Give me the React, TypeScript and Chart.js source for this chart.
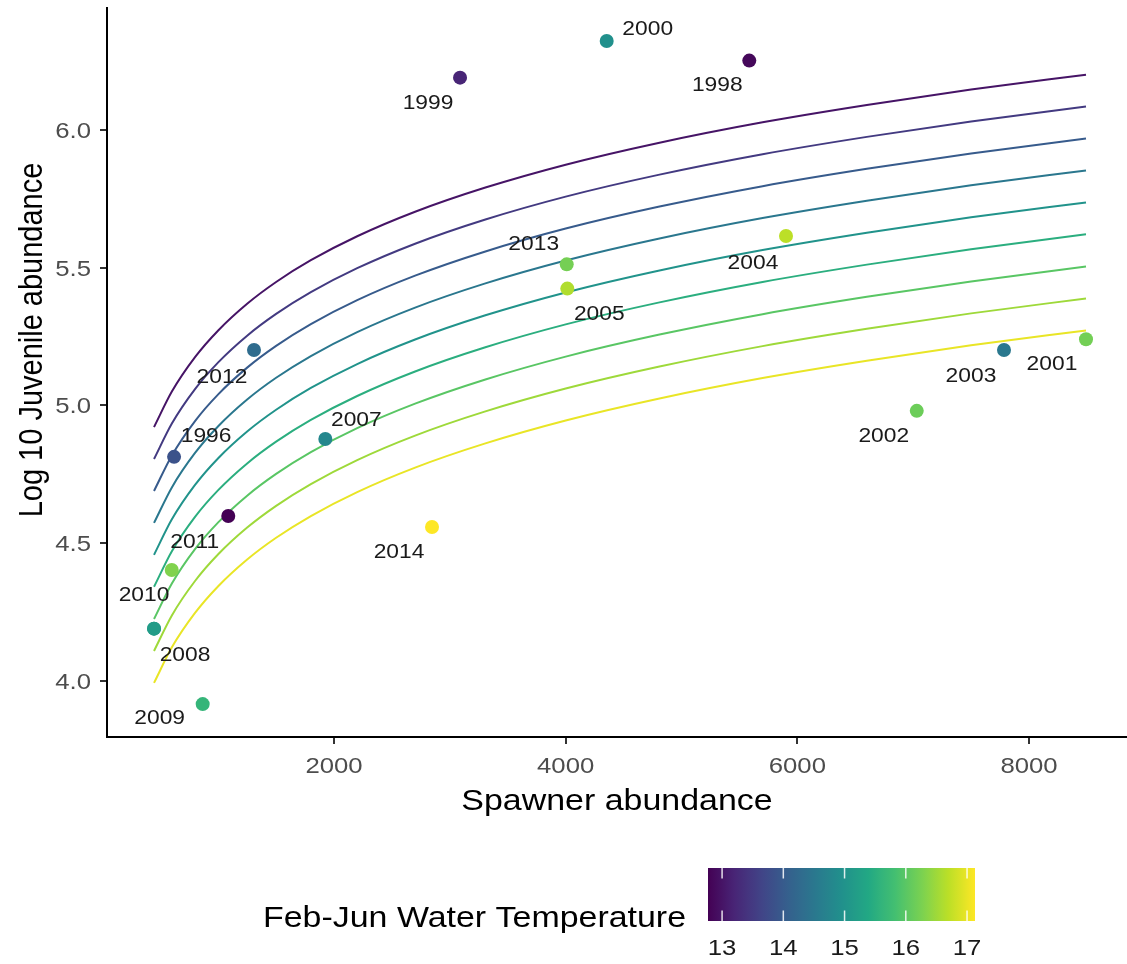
import React, { useEffect, useRef } from "react";
import { Chart, registerables } from "chart.js";

Chart.register(...registerables);

// ---------- data ----------
const years = ["1996", "1997", "1998", "1999", "2000", "2001", "2002", "2003", "2004", "2005", "2007", "2008", "2009", "2010", "2011", "2012", "2013", "2014"];
const spawners = [619, 1087, 5585, 3088, 4354, 8492, 7031, 7784, 5902, 4014, 1925, 446, 866, 446, 599, 1309, 4009, 2846];
const juveniles = [4.813, 4.598, 6.252, 6.19, 6.323, 5.24, 4.98, 5.201, 5.615, 5.424, 4.878, 4.189, 3.915, 4.189, 4.402, 5.201, 5.512, 4.558];
const temps = [13.86, 12.77, 12.85, 13.21, 14.95, 16.2, 16.15, 14.51, 16.7, 16.62, 14.79, 15.17, 15.64, 15.17, 16.3, 14.3, 16.22, 17.13];

const curveX = [446, 600, 800, 1000, 1250, 1500, 1800, 2200, 2700, 3300, 4000, 4800, 5700, 6600, 7500, 8492];
const curveTemps = [13, 13.5, 14, 14.5, 15, 15.5, 16, 16.5, 17];
const curve13 = [4.921, 5.05, 5.175, 5.272, 5.369, 5.448, 5.527, 5.614, 5.703, 5.79, 5.874, 5.953, 6.028, 6.091, 6.147, 6.201];
const curve135 = [4.805, 4.934, 5.059, 5.156, 5.253, 5.332, 5.411, 5.498, 5.587, 5.674, 5.758, 5.837, 5.912, 5.975, 6.031, 6.085];
const curve14 = [4.689, 4.818, 4.943, 5.04, 5.137, 5.216, 5.295, 5.382, 5.471, 5.558, 5.642, 5.721, 5.796, 5.859, 5.915, 5.969];
const curve145 = [4.573, 4.702, 4.827, 4.924, 5.021, 5.1, 5.179, 5.266, 5.355, 5.442, 5.526, 5.605, 5.68, 5.743, 5.799, 5.853];
const curve15 = [4.457, 4.586, 4.711, 4.808, 4.905, 4.984, 5.063, 5.15, 5.239, 5.326, 5.41, 5.489, 5.564, 5.627, 5.683, 5.737];
const curve155 = [4.341, 4.47, 4.595, 4.692, 4.789, 4.868, 4.947, 5.034, 5.123, 5.21, 5.294, 5.373, 5.448, 5.511, 5.567, 5.621];
const curve16 = [4.224, 4.353, 4.478, 4.575, 4.672, 4.751, 4.83, 4.917, 5.006, 5.093, 5.177, 5.256, 5.331, 5.394, 5.45, 5.504];
const curve165 = [4.108, 4.237, 4.362, 4.459, 4.556, 4.635, 4.714, 4.801, 4.89, 4.977, 5.061, 5.14, 5.215, 5.278, 5.334, 5.388];
const curve17 = [3.992, 4.121, 4.246, 4.343, 4.44, 4.519, 4.598, 4.685, 4.774, 4.861, 4.945, 5.024, 5.099, 5.162, 5.218, 5.272];
const curves = [curve13, curve135, curve14, curve145, curve15, curve155, curve16, curve165, curve17];

const xTicks = [2000, 4000, 6000, 8000];
const yTicks = [4.0, 4.5, 5.0, 5.5, 6.0];
const legendTicks = [13, 14, 15, 16, 17];
const tempMin = 12.77;
const tempMax = 17.13;

// ---------- styles ----------
const FONT = '"Liberation Sans", Arial, Helvetica, sans-serif';
const SX = 1.17; // horizontal text stretch seen in the reference
const VIRIDIS = ["#440154", "#482576", "#414487", "#35608D", "#2A788E", "#21908C", "#22A884", "#43BF71", "#7AD151", "#BBDF27", "#FDE725"];

// label offsets (px) from each point, by year
const labelOffsets: Record<string, [number, number]> = {
  "1996": [32, -22], "1998": [-32, 23], "1999": [-32, 24], "2000": [41, -13],
  "2001": [-34, 24], "2002": [-33, 24], "2003": [-33, 25], "2004": [-33, 26],
  "2005": [32, 24], "2007": [31, -20], "2008": [31, 25], "2009": [-43, 13],
  "2010": [-10, -35], "2011": [23, -29], "2012": [-32, 26], "2013": [-33, -21],
  "2014": [-33, 24],
};

function hexToRgb(h: string) {
  const n = parseInt(h.slice(1), 16);
  return [(n >> 16) & 255, (n >> 8) & 255, n & 255];
}
function viridis(f: number) {
  const t = Math.max(0, Math.min(1, f)) * (VIRIDIS.length - 1);
  const i = Math.min(VIRIDIS.length - 2, Math.floor(t));
  const u = t - i;
  const a = hexToRgb(VIRIDIS[i]);
  const b = hexToRgb(VIRIDIS[i + 1]);
  const c = a.map((v, k) => Math.round(v + (b[k] - v) * u));
  return `rgb(${c[0]},${c[1]},${c[2]})`;
}
function tempColor(t: number) {
  return viridis((t - tempMin) / (tempMax - tempMin));
}

function drawText(ctx: CanvasRenderingContext2D, s: string, x: number, y: number, align: CanvasTextAlign) {
  ctx.save();
  ctx.translate(x, y);
  ctx.scale(SX, 1);
  ctx.textAlign = align;
  ctx.textBaseline = "alphabetic";
  ctx.fillText(s, 0, 0);
  ctx.restore();
}

export default function App() {
  const ref = useRef<HTMLCanvasElement>(null);

  useEffect(() => {
    document.body.style.margin = "0";
    const canvas = ref.current;
    if (!canvas) return;

    const textPlugin = {
      id: "textPlugin",
      afterDraw(chart: any) {
        const ctx: CanvasRenderingContext2D = chart.ctx;
        const xs = chart.scales.x;
        const ys = chart.scales.y;
        const area = chart.chartArea;
        ctx.save();

        // tick labels
        ctx.fillStyle = "#4D4D4D";
        ctx.font = `22px ${FONT}`;
        xTicks.forEach((v) => drawText(ctx, String(v), xs.getPixelForValue(v), 773, "center"));
        yTicks.forEach((v) => drawText(ctx, v.toFixed(1), 91, ys.getPixelForValue(v) + 8, "right"));

        // axis titles
        ctx.fillStyle = "#000";
        ctx.font = `29px ${FONT}`;
        drawText(ctx, "Spawner abundance", (area.left + area.right) / 2, 810, "center");
        ctx.save();
        ctx.translate(42, 340);
        ctx.rotate(-Math.PI / 2);
        ctx.scale(1, SX);
        ctx.textAlign = "center";
        ctx.textBaseline = "alphabetic";
        ctx.fillText("Log 10 Juvenile abundance", 0, 0);
        ctx.restore();

        // year labels
        const meta = chart.getDatasetMeta(0);
        ctx.fillStyle = "#1A1A1A";
        ctx.font = `19.5px ${FONT}`;
        meta.data.forEach((pt: any, i: number) => {
          const yr = years[i];
          const off = labelOffsets[yr];
          if (!off) return;
          drawText(ctx, yr, pt.x + off[0], pt.y + off[1] + 7, "center");
        });

        // legend colorbar
        const bx0 = 708, bx1 = 975, by0 = 868, by1 = 921;
        const grad = ctx.createLinearGradient(bx0, 0, bx1, 0);
        for (let k = 0; k <= 40; k++) grad.addColorStop(k / 40, viridis(k / 40));
        ctx.fillStyle = grad;
        ctx.fillRect(bx0, by0, bx1 - bx0, by1 - by0);
        ctx.strokeStyle = "rgba(255,255,255,0.85)";
        ctx.lineWidth = 1.5;
        const tickLen = 10.5;
        ctx.fillStyle = "#1A1A1A";
        ctx.font = `22px ${FONT}`;
        legendTicks.forEach((t) => {
          const px = bx0 + ((t - tempMin) / (tempMax - tempMin)) * (bx1 - bx0);
          ctx.beginPath();
          ctx.moveTo(px, by0);
          ctx.lineTo(px, by0 + tickLen);
          ctx.moveTo(px, by1 - tickLen);
          ctx.lineTo(px, by1);
          ctx.stroke();
          drawText(ctx, String(t), px, 955, "center");
        });
        ctx.fillStyle = "#000";
        ctx.font = `29px ${FONT}`;
        drawText(ctx, "Feb-Jun Water Temperature", 263, 927, "left");

        ctx.restore();
      },
    };

    const lineSets = curves.map((ys, i) => ({
      type: "line" as const,
      data: curveX.map((x, k) => ({ x, y: ys[k] })),
      borderColor: tempColor(curveTemps[i]),
      backgroundColor: tempColor(curveTemps[i]),
      borderWidth: 2,
      pointRadius: 0,
      fill: false,
      cubicInterpolationMode: "monotone" as const,
      order: 2,
    }));

    const pointSet = {
      type: "scatter" as const,
      data: spawners.map((x, i) => ({ x, y: juveniles[i] })),
      pointRadius: 7,
      pointHoverRadius: 7,
      pointBorderWidth: 0,
      pointBackgroundColor: temps.map(tempColor),
      pointBorderColor: temps.map(tempColor),
      showLine: false,
      order: 1,
    };

    const chart = new Chart(canvas, {
      type: "scatter",
      data: { datasets: [pointSet as any, ...(lineSets as any[])] },
      options: {
        animation: false,
        responsive: false,
        devicePixelRatio: 1,
        layout: { autoPadding: false, padding: { top: 8, left: 0, right: 0, bottom: 0 } },
        plugins: { legend: { display: false }, tooltip: { enabled: false } },
        events: [],
        scales: {
          x: {
            type: "linear",
            position: "bottom",
            min: 40,
            max: 8846,
            afterBuildTicks: (s: any) => {
              s.ticks = xTicks.map((v) => ({ value: v }));
            },
            afterFit: (s: any) => {
              s.height = 227;
            },
            ticks: { display: false },
            grid: { display: true, drawOnChartArea: false, drawTicks: true, tickLength: 7, color: "#333333", lineWidth: 2 },
            border: { display: true, color: "#000", width: 2 },
          },
          y: {
            type: "linear",
            position: "left",
            min: 3.7955,
            max: 6.443,
            afterBuildTicks: (s: any) => {
              s.ticks = yTicks.map((v) => ({ value: v }));
            },
            afterFit: (s: any) => {
              s.width = 107;
            },
            ticks: { display: false },
            grid: { display: true, drawOnChartArea: false, drawTicks: true, tickLength: 7, color: "#333333", lineWidth: 2 },
            border: { display: true, color: "#000", width: 2 },
          },
        },
      } as any,
      plugins: [textPlugin],
    });

    return () => chart.destroy();
  }, []);

  return (
    <div style={{ position: "absolute", left: 0, top: 0, width: 1127, height: 964, background: "#fff" }}>
      <canvas ref={ref} width={1127} height={964} style={{ display: "block", width: 1127, height: 964 }} />
    </div>
  );
}
